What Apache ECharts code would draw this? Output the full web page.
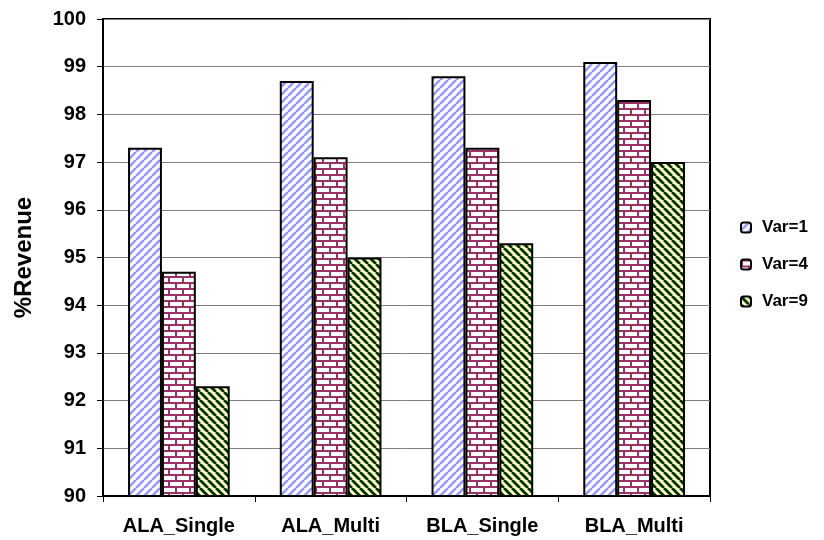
<!DOCTYPE html>
<html><head><meta charset="utf-8">
<script src="https://cdn.jsdelivr.net/npm/echarts@6/dist/echarts.min.js"></script>
<style>html,body{margin:0;padding:0;background:#fff}#c{width:824px;height:540px}</style>
</head><body><div id="c"></div>
<script>
const categories = ['ALA_Single','ALA_Multi','BLA_Single','BLA_Multi'];
const seriesNames = ['Var=1','Var=4','Var=9'];
const var1 = [97.3, 98.7, 98.8, 99.1];
const var4 = [94.7, 97.1, 97.3, 98.3];
const var9 = [92.3, 95.0, 95.3, 97.0];
const yTicks = [90,91,92,93,94,95,96,97,98,99,100];

function stripe(bg, fg, w, dir){
  const s = 8, c = document.createElement('canvas'); c.width = s; c.height = s;
  const g = c.getContext('2d'); g.fillStyle = bg; g.fillRect(0,0,s,s);
  g.strokeStyle = fg; g.lineWidth = w;
  for (let k=-1;k<=1;k++){
    g.beginPath();
    if (dir>0){ g.moveTo(k*s, s); g.lineTo(k*s+s, 0); }
    else { g.moveTo(k*s, 0); g.lineTo(k*s+s, s); }
    g.stroke();
  }
  return c;
}
function brick(){
  const w=14,h=12,c=document.createElement('canvas'); c.width=w; c.height=h;
  const g=c.getContext('2d'); g.fillStyle='#fff'; g.fillRect(0,0,w,h);
  g.fillStyle='#993366';
  g.fillRect(0,0,w,2); g.fillRect(0,6,w,2);
  g.fillRect(0,0,2,6); g.fillRect(7,6,2,6);
  return c;
}
const pats = [
  {image: stripe('#ffffff','#9999ff',2.6,1), repeat:'repeat'},
  {image: brick(), repeat:'repeat'},
  {image: stripe('#ffffcc','#003300',2.8,-1), repeat:'repeat'}
];
const vals = [var1,var4,var9];
const font = 'Liberation Sans, Arial, sans-serif';
const chart = echarts.init(document.getElementById('c'));
chart.setOption({
  animation:false,
  grid:{left:103,right:114,top:19,bottom:44,show:true,borderColor:'#000',borderWidth:2},
  legend:{orient:'vertical',left:735,top:214,itemWidth:10,itemHeight:10,itemGap:20,
    textStyle:{fontFamily:font,fontWeight:'bold',fontSize:17,color:'#000',padding:[0,0,0,6]},
    data:seriesNames},
  xAxis:{type:'category',data:categories,
    axisLine:{lineStyle:{color:'#000',width:2}},
    axisTick:{show:true,interval:0,length:6,lineStyle:{color:'#000',width:1}},
    axisLabel:{interval:0,fontFamily:font,fontWeight:'bold',fontSize:20,color:'#000',margin:20}},
  yAxis:{type:'value',min:yTicks[0],max:yTicks[yTicks.length-1],interval:1,
    name:'%Revenue',nameLocation:'middle',nameGap:67,
    nameTextStyle:{fontFamily:font,fontWeight:'bold',fontSize:24,color:'#000'},
    axisLine:{show:true,lineStyle:{color:'#000',width:2}},
    axisTick:{show:true,length:6,lineStyle:{color:'#000'}},
    splitLine:{lineStyle:{color:'#808080',width:1}},
    axisLabel:{fontFamily:font,fontWeight:'bold',fontSize:20,color:'#000',margin:17}},
  series: seriesNames.map((n,i)=>({
    name:n,type:'bar',data:vals[i],barGap:'0%',barCategoryGap:'33%',
    itemStyle:{color:pats[i],borderColor:'#000',borderWidth:2}
  }))
});
</script></body></html>
